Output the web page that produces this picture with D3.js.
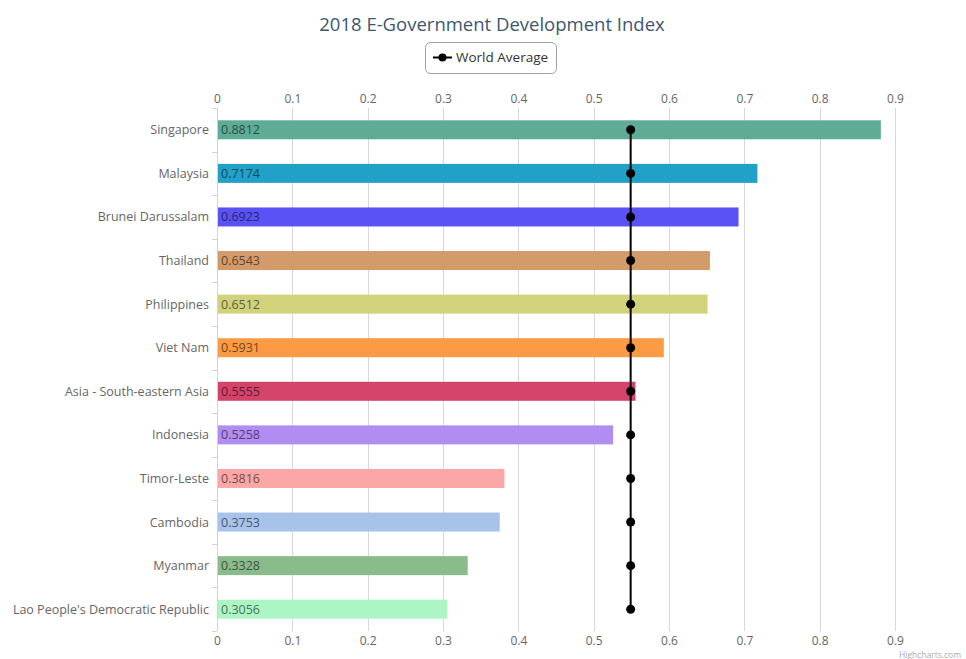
<!DOCTYPE html>
<html>
<head>
<meta charset="utf-8">
<script src="https://cdn.jsdelivr.net/npm/d3@7"></script>
<style>
  html, body { margin: 0; padding: 0; background: #fff; }
  svg { display: block; font-family: "Open Sans", "DejaVu Sans", sans-serif; }
</style>
</head>
<body>
<div id="chart"></div>
<script>
// --- data ---
const countries = [
  "Singapore", "Malaysia", "Brunei Darussalam", "Thailand", "Philippines",
  "Viet Nam", "Asia - South-eastern Asia", "Indonesia", "Timor-Leste",
  "Cambodia", "Myanmar", "Lao People's Democratic Republic"
];
const egdi = [0.8812, 0.7174, 0.6923, 0.6543, 0.6512, 0.5931, 0.5555, 0.5258, 0.3816, 0.3753, 0.3328, 0.3056];
const worldAverage = countries.map(() => 0.5491);
const barColors = [
  "#5eab96", "#21a0c8", "#5b52f6", "#d39a6a", "#d2d27c", "#fd9a44",
  "#d3436a", "#b18df2", "#fba7a7", "#a7c3ea", "#8abb8b", "#acf6c6"
];
const xTicks = [0, 0.1, 0.2, 0.3, 0.4, 0.5, 0.6, 0.7, 0.8, 0.9];

const W = 966, H = 659;
const plot = { left: 217, right: 895, top: 108, bottom: 631 };

const svg = d3.select("#chart").append("svg")
  .attr("width", W).attr("height", H);

const x = d3.scaleLinear().domain([0, 0.9]).range([plot.left, plot.right]);
const y = d3.scaleBand().domain(countries).range([plot.top, plot.bottom]);
const barH = 19;

// title
svg.append("text")
  .attr("x", 492).attr("y", 31)
  .attr("text-anchor", "middle")
  .attr("fill", "#3e576f")
  .attr("font-size", 18.5)
  .text("2018 E-Government Development Index");

// legend
const lg = svg.append("g");
lg.append("rect")
  .attr("x", 425.5).attr("y", 42.5).attr("width", 131).attr("height", 31)
  .attr("rx", 5).attr("fill", "#fff").attr("stroke", "#a0a0a0");
lg.append("line")
  .attr("x1", 433).attr("x2", 452).attr("y1", 57.5).attr("y2", 57.5)
  .attr("stroke", "#000").attr("stroke-width", 2);
lg.append("circle").attr("cx", 442.5).attr("cy", 57.5).attr("r", 4).attr("fill", "#000");
lg.append("text")
  .attr("x", 456).attr("y", 62)
  .attr("fill", "#333").attr("font-size", 13.5)
  .text("World Average");

// grid lines
svg.append("g").selectAll("line").data(xTicks).join("line")
  .attr("x1", d => Math.round(x(d)) + 0.5).attr("x2", d => Math.round(x(d)) + 0.5)
  .attr("y1", plot.top).attr("y2", plot.bottom)
  .attr("stroke", d => d === 0 ? "#c8d4e0" : "#d8d8d8");

// top + bottom axis labels
const fmt = d => d === 0 ? "0" : d3.format(".1f")(d);
const axisTop = d3.axisTop(x).tickValues(xTicks).tickSize(0).tickPadding(4).tickFormat(fmt);
const axisBottom = d3.axisBottom(x).tickValues(xTicks).tickSize(0).tickPadding(3).tickFormat(fmt);
[svg.append("g").attr("transform", `translate(0,${plot.top - 1})`).call(axisTop),
 svg.append("g").attr("transform", `translate(0,${plot.bottom + 2})`).call(axisBottom)]
  .forEach(g => {
    g.select(".domain").remove();
    g.selectAll("text").attr("fill", "#666").attr("font-size", 12)
      .attr("font-family", "'Open Sans', 'DejaVu Sans', sans-serif");
  });

// category axis: small ticks + labels
const yTickPos = d3.range(countries.length + 1).map(i => plot.top + i * y.step());
svg.append("g").selectAll("line").data(yTickPos).join("line")
  .attr("x1", plot.left - 5).attr("x2", plot.left)
  .attr("y1", d => Math.round(d) + 0.5).attr("y2", d => Math.round(d) + 0.5)
  .attr("stroke", "#c8d4e0");
svg.append("g").selectAll("text").data(countries).join("text")
  .attr("x", plot.left - 8)
  .attr("y", d => y(d) + y.bandwidth() / 2 + 4.5)
  .attr("text-anchor", "end")
  .attr("fill", "#666").attr("font-size", 12.5)
  .text(d => d);

// bars
const rows = countries.map((c, i) => ({ c, v: egdi[i], color: barColors[i], avg: worldAverage[i] }));
svg.append("g").selectAll("rect").data(rows).join("rect")
  .attr("x", x(0) + 1)
  .attr("y", d => y(d.c) + y.bandwidth() / 2 - barH / 2)
  .attr("width", d => x(d.v) - x(0) - 1)
  .attr("height", barH)
  .attr("fill", d => d.color);

// data labels inside bar start
svg.append("g").selectAll("text").data(rows).join("text")
  .attr("x", x(0) + 4)
  .attr("y", d => y(d.c) + y.bandwidth() / 2 + 4.5)
  .attr("font-size", 12.5)
  .attr("fill", d => d3.color(d.color).darker(2.2))
  .text(d => d.v.toFixed(4));

// world average line + markers
const line = d3.line().x(d => x(d.avg)).y(d => y(d.c) + y.bandwidth() / 2);
svg.append("path").datum(rows)
  .attr("d", line).attr("fill", "none")
  .attr("stroke", "#000").attr("stroke-width", 2);
svg.append("g").selectAll("circle").data(rows).join("circle")
  .attr("cx", d => x(d.avg))
  .attr("cy", d => y(d.c) + y.bandwidth() / 2)
  .attr("r", 4.5).attr("fill", "#000");

// credits
svg.append("text")
  .attr("x", 899).attr("y", 658)
  .attr("fill", "#aaa").attr("font-size", 8.5)
  .text("Highcharts.com");
</script>
</body>
</html>
